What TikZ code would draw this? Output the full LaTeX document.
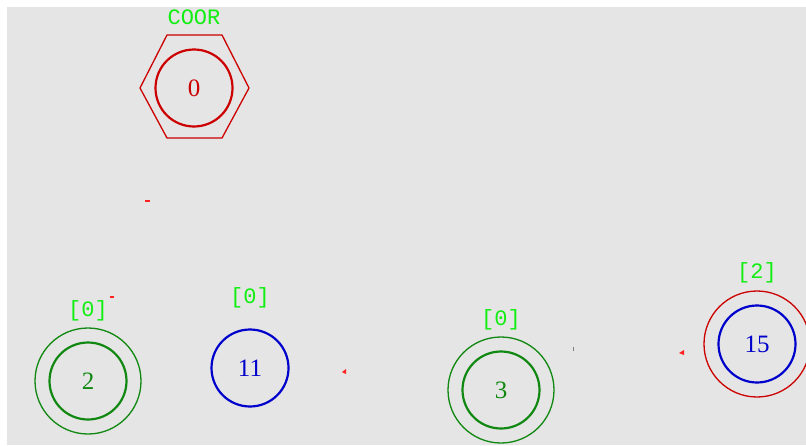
\documentclass[tikz,border=0pt]{standalone}
\usepackage{fontspec}
\newfontfamily\labelfont{Liberation Mono}
\newfontfamily\numfont{Liberation Serif}
\usepackage{xcolor}
\usetikzlibrary{positioning}

\definecolor{bg}{HTML}{E5E5E5}
\definecolor{coorred}{HTML}{CC0000}
\definecolor{ringgreen}{HTML}{118811}
\definecolor{tagcolor}{HTML}{11EE11}
\definecolor{coreblue}{HTML}{0000CC}
\definecolor{tickred}{HTML}{FF2020}

\begin{document}
\begin{tikzpicture}[x=1pt,y=-1pt,
  core/.style={circle,line width=2.2pt,minimum size=77pt,inner sep=0pt,
    font=\numfont\fontsize{25}{25}\selectfont},
  ring/.style={circle,line width=1.3pt,minimum size=106pt,inner sep=0pt},
  tag/.style={text=tagcolor,font=\labelfont\fontsize{22}{22}\selectfont}]
\useasboundingbox (0,0) rectangle (806,445);
\fill[bg] (7,7) rectangle (806,445);

% coordinator
\node[core,draw=coorred,text=coorred] (n0) at (194,88) {0};
\draw[coorred,line width=1.3pt] (140,88) -- (167,35) -- (222,35) -- (249,88)
  -- (222,138) -- (167,138) -- cycle;
\node[tag] (t0) at (194,17) {COOR};

% members
\node[core,draw=ringgreen,text=ringgreen] (n2) at (88,381) {2};
\node[ring,draw=ringgreen] (r2) at (88,381) {};
\node[tag] (t2) at (88,311) {[0]};

\node[core,draw=coreblue,text=coreblue] (n11) at (250,368) {11};
\node[tag] (t11) at (250,298) {[0]};

\node[core,draw=ringgreen,text=ringgreen] (n3) at (501,390) {3};
\node[ring,draw=ringgreen] (r3) at (501,390) {};
\node[tag] (t3) at (501,320) {[0]};

\node[core,draw=coreblue,text=coreblue] (n15) at (757,344) {15};
\node[ring,draw=coorred] (r15) at (757,344) {};
\node[tag] (t15) at (757,273) {[2]};

% stray ticks
\fill[tickred] (145,200) rectangle (150,202);
\fill[tickred] (110,296) rectangle (114,298);
\fill[tickred] (342,372) -- (346,369) -- (346,374) -- cycle;
\fill[tickred] (679,353) -- (684,350) -- (684,355) -- cycle;
\fill[gray] (573,347) rectangle (574,351);
\end{tikzpicture}
\end{document}
